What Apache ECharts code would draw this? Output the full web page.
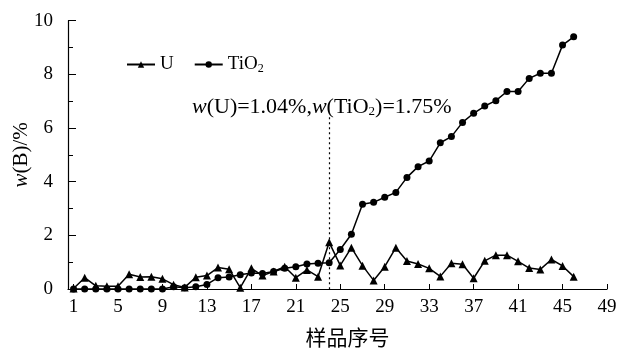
<!DOCTYPE html>
<html>
<head>
<meta charset="utf-8">
<script src="https://cdn.jsdelivr.net/npm/echarts@6/dist/echarts.min.js"></script>
<style>
html,body{margin:0;padding:0;background:#fff;}
#chart{width:619px;height:350px;}
</style>
</head>
<body>
<div id="chart"></div>
<script>
const samples = [1,2,3,4,5,6,7,8,9,10,11,12,13,14,15,16,17,18,19,20,21,22,23,24,25,26,27,28,29,30,31,32,33,34,35,36,37,38,39,40,41,42,43,44,45,46];
const uValues = [0.02,0.42,0.12,0.1,0.1,0.55,0.45,0.46,0.38,0.16,0.06,0.44,0.5,0.8,0.74,0.05,0.77,0.5,0.65,0.83,0.42,0.71,0.46,1.74,0.88,1.54,0.87,0.32,0.83,1.54,1.04,0.93,0.77,0.47,0.96,0.92,0.4,1.05,1.26,1.26,1.03,0.78,0.73,1.1,0.86,0.46];
const tio2Values = [0,0,0,0,0,0,0,0,0,0.08,0.05,0.08,0.17,0.42,0.45,0.53,0.6,0.58,0.65,0.77,0.83,0.93,0.96,0.98,1.47,2.04,3.16,3.23,3.42,3.6,4.16,4.56,4.77,5.45,5.68,6.21,6.55,6.82,7.02,7.36,7.36,7.85,8.04,8.04,9.09,9.4];
const xTickLabels = [1,5,9,13,17,21,25,29,33,37,41,45,49];
const yTickLabels = [0,2,4,6,8,10];
const markSample = 24;
const markTop = 6.4;

const serif = '"Liberation Serif", "DejaVu Serif", serif';
const chart = echarts.init(document.getElementById('chart'));
chart.setOption({
  animation: false,
  backgroundColor: '#fff',
  grid: {left: 68, right: 12, top: 20.7, bottom: 61, containLabel: false, outerBoundsMode: 'none'},
  legend: {
    left: 121, top: 50,
    itemWidth: 28, itemHeight: 8, itemGap: 20,
    textStyle: {fontFamily: serif, fontSize: 19, color: '#000',
      rich: {n: {fontFamily: serif, fontSize: 19, color: '#000'}, s: {fontFamily: serif, fontSize: 12, color: '#000', verticalAlign: 'bottom', padding: [8,0,0,0]}}},
    formatter: function (name) { return name === 'TiO2' ? '{n|TiO}{s|2}' : '{n|' + name + '}'; },
    data: ['U', 'TiO2']
  },
  xAxis: {
    type: 'value', min: 0.5, max: 49,
    name: '样品序号', nameLocation: 'middle', nameGap: 38, nameMoveOverlap: false,
    nameTextStyle: {fontFamily: '"Noto Sans CJK SC", sans-serif', fontSize: 21, color: '#000', padding: [0,0,0,20]},
    axisLine: {lineStyle: {color: '#000', width: 1.2}},
    axisTick: {inside: true, length: 5, customValues: xTickLabels, lineStyle: {color: '#000'}},
    axisLabel: {customValues: xTickLabels, fontFamily: serif, fontSize: 19, color: '#000', margin: 9},
    splitLine: {show: false}
  },
  yAxis: {
    type: 'value', min: 0, max: 10, interval: 2,
    name: '{i|w}(B)/%', nameLocation: 'middle', nameGap: 36, nameMoveOverlap: false,
    nameTextStyle: {fontFamily: serif, fontSize: 21, color: '#000',
      rich: {i: {fontFamily: serif, fontSize: 21, fontStyle: 'italic', color: '#000'}}},
    axisLine: {show: true, lineStyle: {color: '#000', width: 1.2}},
    axisTick: {show: true, inside: true, length: 8, lineStyle: {color: '#000'}},
    minorTick: {show: true, splitNumber: 2, length: 5, lineStyle: {color: '#000'}},
    axisLabel: {fontFamily: serif, fontSize: 19, color: '#000', margin: 15, customValues: yTickLabels},
    splitLine: {show: false}
  },
  series: [
    {
      name: 'U', type: 'line',
      data: samples.map((s, i) => [s, uValues[i]]),
      symbol: 'triangle', symbolSize: 8,
      lineStyle: {color: '#000', width: 1.5},
      itemStyle: {color: '#000'},
      markLine: {
        silent: true, symbol: 'none',
        label: {show: false},
        lineStyle: {color: '#000', type: [2, 3], width: 1.2},
        data: [[{coord: [markSample, markTop]}, {coord: [markSample, 0]}]]
      }
    },
    {
      name: 'TiO2', type: 'line',
      data: samples.map((s, i) => [s, tio2Values[i]]),
      symbol: 'circle', symbolSize: 7,
      lineStyle: {color: '#000', width: 1.5},
      itemStyle: {color: '#000'}
    }
  ],
  graphic: [{
    type: 'text', left: 192, top: 96,
    style: {
      text: '{i|w}(U)=1.04%,{i|w}(TiO{s|2})=1.75%',
      rich: {
        i: {fontFamily: serif, fontSize: 22, fontStyle: 'italic', fill: '#000'},
        s: {fontFamily: serif, fontSize: 13, fill: '#000', padding: [9,0,0,0]}
      },
      font: '22px "Liberation Serif", serif', fill: '#000'
    }
  }]
});
</script>
</body>
</html>
